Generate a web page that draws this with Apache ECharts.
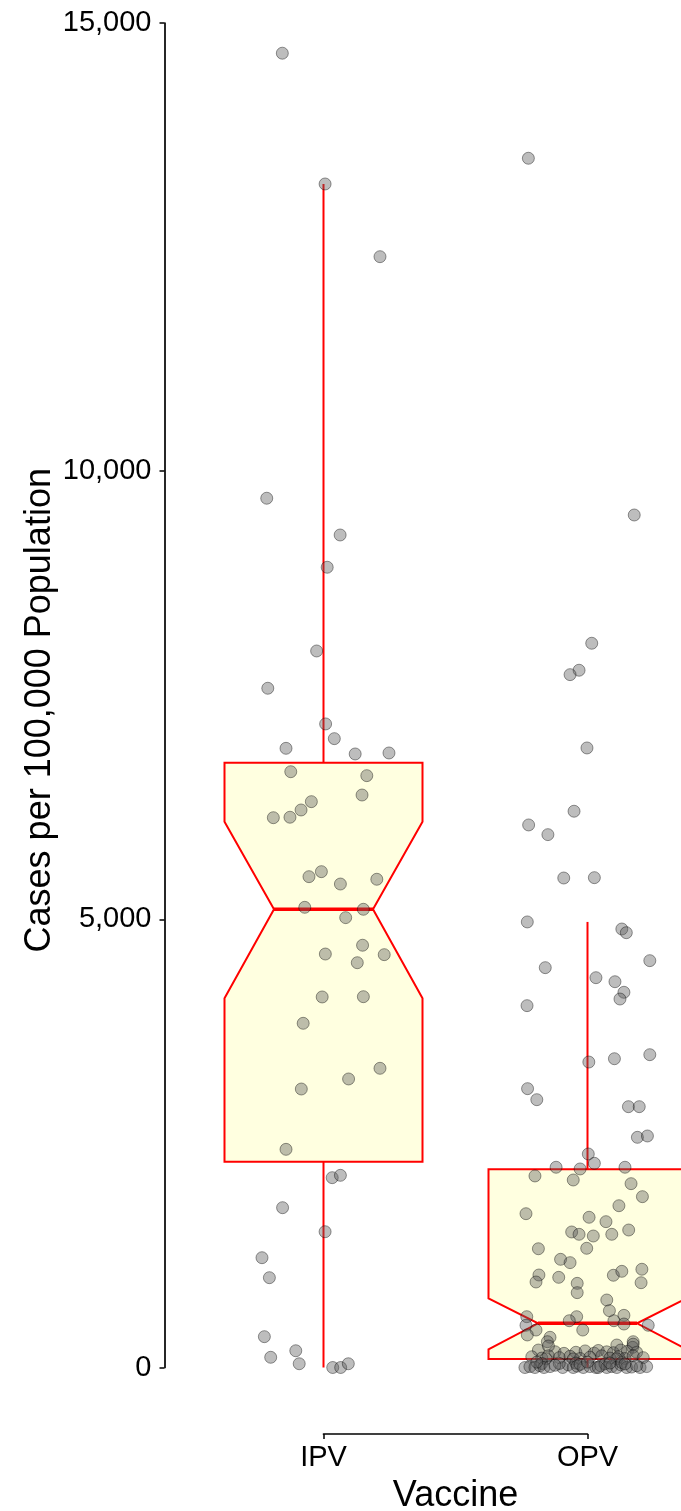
<!DOCTYPE html>
<html>
<head>
<meta charset="utf-8">
<title>Cases per 100,000 Population by Vaccine</title>
<script src="https://cdn.jsdelivr.net/npm/echarts@6/dist/echarts.min.js"></script>
<style>
html,body{margin:0;padding:0;background:#fff;}
#chart{width:681px;height:1511px;}
</style>
</head>
<body>
<div id="chart"></div>
<script>
// categories and axis ticks
var categories = ['IPV', 'OPV'];
var yTicks = [0, 5000, 10000, 15000];

// notched box stats: low whisker, q1, notch low, median, notch high, q3, high whisker
var ipvBox = [0, 2296, 4119, 5112, 6090, 6748, 13204];
var opvBox = [0, 95, 203, 493, 772, 2211, 4971];

// IPV points: horizontal jitter (category units) and cases
var ipvJitter = [-0.156,0.006,0.214,-0.215,0.063,0.014,-0.026,-0.211,0.008,0.041,-0.142,0.120,0.248,-0.124,0.164,0.146,-0.046,-0.085,-0.127,-0.190,
  -0.008,-0.055,0.064,0.202,-0.071,0.151,0.084,0.148,0.007,0.230,0.128,-0.005,0.151,-0.077,0.214,0.095,-0.084,-0.142,0.033,0.064,
  -0.155,0.006,-0.233,-0.205,-0.224,-0.105,-0.200,-0.092,0.035,0.065,0.094];
var ipvCases = [14663,13204,12393,9698,9288,8928,7994,7578,7180,7016,6908,6845,6856,6647,6603,6387,6313,6220,6139,6134,
  5532,5476,5394,5447,5134,5112,5019,4711,4613,4606,4516,4134,4137,3840,3338,3219,3107,2434,2118,2144,
  1783,1515,1225,1002,344,187,114,42,0,0,42];

// OPV points
var opvJitter = [-0.224,0.177,0.016,-0.032,-0.066,-0.002,-0.051,-0.223,-0.150,-0.090,0.026,-0.228,0.130,0.147,0.236,-0.160,0.032,0.104,0.138,0.123,
  -0.229,0.005,0.102,0.236,-0.227,-0.192,0.155,0.196,0.189,0.227,0.003,0.026,-0.119,-0.028,0.142,-0.199,-0.054,0.165,0.208,0.119,
  -0.233,0.006,0.070,-0.060,-0.032,0.022,0.092,0.156,-0.186,-0.003,-0.102,-0.066,-0.184,-0.195,-0.109,-0.039,-0.039,0.098,0.130,0.206,
  0.203,0.073,0.083,0.138,0.100,0.138,-0.041,-0.069,-0.018,-0.230,-0.233,-0.195,-0.228,0.230,-0.142,-0.152,0.173,0.111,0.171,
  -0.186,-0.123,-0.089,-0.044,-0.009,0.025,0.041,0.073,0.098,0.126,0.151,0.186,-0.148,0.173,
  -0.211,-0.173,-0.148,-0.107,-0.066,-0.028,0.009,0.054,0.085,0.117,0.142,0.173,0.211,-0.157,-0.054,0.111,
  -0.237,-0.218,-0.199,-0.180,-0.173,-0.165,-0.142,-0.094,-0.073,-0.054,-0.044,-0.039,-0.016,0.009,0.032,0.050,0.066,0.073,0.092,0.111,
  0.126,0.130,0.148,0.167,0.199,0.224,-0.192,-0.107,0.041,0.142,-0.028,0.085,-0.123,0.186,0.000];
var opvCases = [13491,9511,8080,7779,7730,6912,6206,6053,5945,5461,5465,4971,4892,4851,4539,4461,4349,4304,4186,4111,
  4037,3408,3445,3490,3111,2988,2910,2910,2568,2583,2382,2278,2234,2215,2234,2137,2092,2051,1906,1805,
  1716,1676,1627,1512,1486,1467,1486,1534,1325,1330,1207,1170,1032,954,1006,939,835,1029,1073,1096,
  946,753,634,582,522,485,567,522,418,567,471,418,363,471,337,288,288,251,225,
  195,176,158,170,185,160,190,175,165,195,180,170,240,260,
  120,105,130,110,125,100,115,130,105,120,100,130,110,98,96,97,
  0,10,0,20,45,0,10,0,30,0,50,15,0,10,0,20,40,0,10,0,
  30,55,0,5,0,10,60,45,0,40,35,50,25,20,60];

var FONT = '"Liberation Sans", Arial, sans-serif';
var BOX_HALF = 0.375, NOTCH_HALF = 0.1875;

function jitterData(pos, jitter, cases){
  var out = [];
  for (var i = 0; i < cases.length; i++) {
    out.push([pos + jitter[i], cases[i]]);
  }
  return out;
}

function commas(v){
  return String(v).replace(/\B(?=(\d{3})+(?!\d))/g, ',');
}

// draws one notched box with whiskers
function renderBox(params, api){
  var x = api.value(0);
  var low = api.value(1), q1 = api.value(2), nLo = api.value(3), med = api.value(4),
      nHi = api.value(5), q3 = api.value(6), high = api.value(7);
  function pt(dx, v){ return api.coord([x + dx, v]); }
  var red = {stroke: '#ff0000', lineWidth: 2, fill: null};
  var a = pt(0, high), b = pt(0, q3), c = pt(0, q1), d = pt(0, low);
  var poly = [
    pt(-BOX_HALF, q1), pt(-BOX_HALF, nLo), pt(-NOTCH_HALF, med), pt(-BOX_HALF, nHi), pt(-BOX_HALF, q3),
    pt(BOX_HALF, q3), pt(BOX_HALF, nHi), pt(NOTCH_HALF, med), pt(BOX_HALF, nLo), pt(BOX_HALF, q1)
  ];
  var m1 = pt(-NOTCH_HALF, med), m2 = pt(NOTCH_HALF, med);
  return {
    type: 'group',
    children: [
      {type: 'line', shape: {x1: a[0], y1: a[1], x2: b[0], y2: b[1]}, style: red},
      {type: 'line', shape: {x1: c[0], y1: c[1], x2: d[0], y2: d[1]}, style: red},
      {type: 'polygon', shape: {points: poly}, style: {fill: '#ffffe0', stroke: '#ff0000', lineWidth: 2}},
      {type: 'line', shape: {x1: m1[0], y1: m1[1], x2: m2[0], y2: m2[1]}, style: {stroke: '#ff0000', lineWidth: 3.5}}
    ]
  };
}

var chart = echarts.init(document.getElementById('chart'));
var option = {
  animation: false,
  backgroundColor: '#fff',
  grid: {left: 323.5, right: 93.5, top: 23, bottom: 143.5, containLabel: false, outerBoundsMode: 'none'},
  xAxis: {
    type: 'value',
    min: 1, max: 2, interval: 1,
    offset: 66.5,
    name: 'Vaccine',
    nameLocation: 'middle',
    nameGap: 44,
    nameTextStyle: {fontFamily: FONT, fontSize: 36, color: '#000'},
    axisLine: {show: true, onZero: false, lineStyle: {color: '#000', width: 1.7}},
    axisTick: {show: true, length: 5, lineStyle: {color: '#000', width: 1.5}},
    axisLabel: {
      margin: 9, fontFamily: FONT, fontSize: 29, color: '#000',
      showMinLabel: true, showMaxLabel: true,
      formatter: function(v){ return categories[Math.round(v) - 1] || ''; }
    },
    splitLine: {show: false}
  },
  yAxis: {
    type: 'value',
    min: yTicks[0], max: yTicks[yTicks.length - 1], interval: yTicks[1] - yTicks[0],
    offset: 159,
    name: 'Cases per 100,000 Population',
    nameLocation: 'middle',
    nameGap: 106,
    nameRotate: 90,
    nameTextStyle: {fontFamily: FONT, fontSize: 36, color: '#000', padding: [0, 30, 0, 0]},
    axisLine: {show: true, onZero: false, lineStyle: {color: '#000', width: 1.7}},
    axisTick: {show: true, length: 5, lineStyle: {color: '#000', width: 1.5}},
    axisLabel: {margin: 13, fontFamily: FONT, fontSize: 29, color: '#000', formatter: commas},
    splitLine: {show: false}
  },
  series: [
    {
      type: 'custom',
      renderItem: renderBox,
      clip: false,
      encode: {x: 0, y: [1, 2, 3, 4, 5, 6, 7]},
      data: [[1].concat(ipvBox), [2].concat(opvBox)],
      z: 2
    },
    {
      type: 'scatter',
      clip: false,
      symbol: 'circle',
      symbolSize: 12,
      itemStyle: {color: 'rgba(89,89,89,0.5)', borderColor: 'rgba(0,0,0,0.5)', borderWidth: 1},
      emphasis: {disabled: true},
      data: jitterData(1, ipvJitter, ipvCases).concat(jitterData(2, opvJitter, opvCases)),
      z: 3
    }
  ]
};
chart.setOption(option);
</script>
</body>
</html>
